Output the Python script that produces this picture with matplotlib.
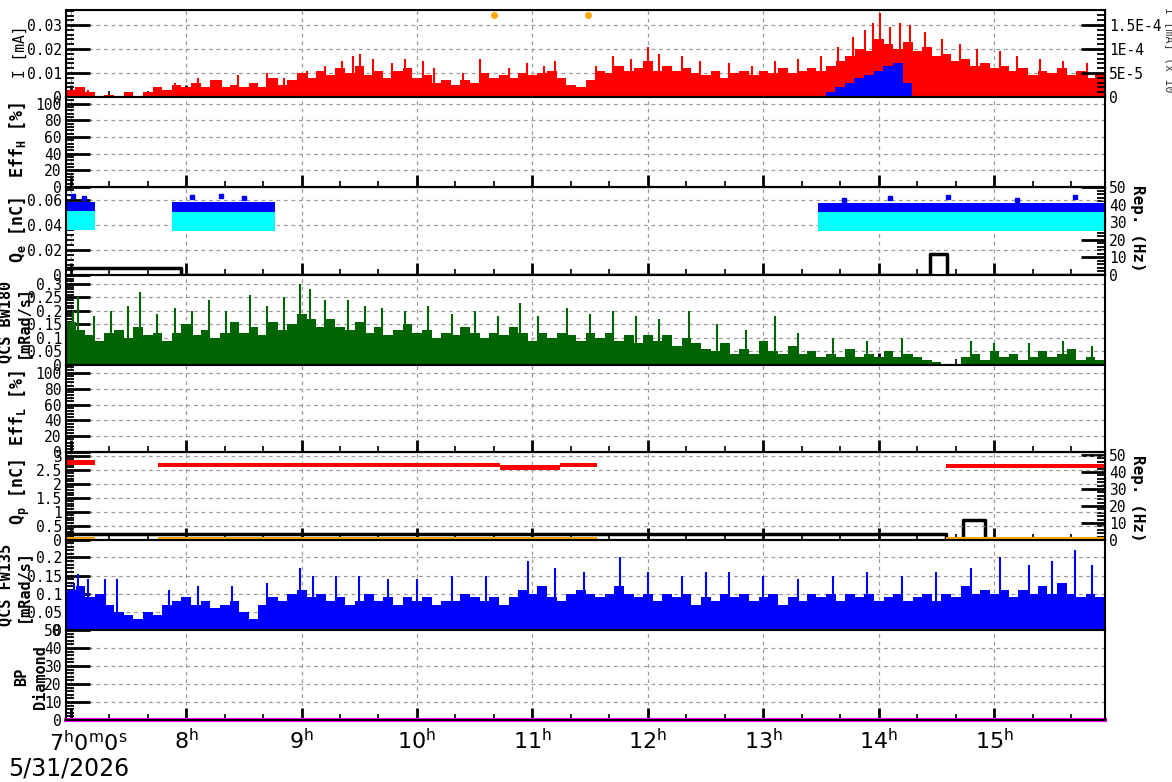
import numpy as np
import matplotlib
matplotlib.use('Agg')
import matplotlib.pyplot as plt
from matplotlib.ticker import MultipleLocator, FixedLocator, FixedFormatter, FuncFormatter
from matplotlib.transforms import Bbox, TransformedBbox

W, H = 1172, 782
T0, T1 = 6.96, 15.96

# 5 minute bins, 6:57.6 -> 15:57.6
edges = T0 + np.arange(109) / 12.0

# beam current I [mA], red (typical level per bin + single spikes)
current = [0.003, 0.004, 0.002, 0.0005, 0.001, 0.0003, 0.002, 0.0005, 0.002, 0.004,
           0.003, 0.005, 0.004, 0.006, 0.004, 0.007, 0.004, 0.005, 0.004, 0.006,
           0.004, 0.008, 0.005, 0.007, 0.010, 0.008, 0.011, 0.009, 0.012, 0.010,
           0.013, 0.009, 0.011, 0.008, 0.011, 0.012, 0.008, 0.009, 0.006, 0.007,
           0.005, 0.007, 0.006, 0.010, 0.008, 0.009, 0.008, 0.010, 0.009, 0.010,
           0.011, 0.008, 0.005, 0.004, 0.007, 0.011, 0.010, 0.013, 0.011, 0.012,
           0.015, 0.011, 0.013, 0.011, 0.012, 0.010, 0.009, 0.011, 0.008, 0.010,
           0.011, 0.009, 0.011, 0.010, 0.012, 0.010, 0.011, 0.012, 0.011, 0.013,
           0.015, 0.017, 0.020, 0.019, 0.024, 0.022, 0.020, 0.023, 0.019, 0.021,
           0.017, 0.018, 0.015, 0.016, 0.013, 0.014, 0.012, 0.013, 0.011, 0.012,
           0.009, 0.011, 0.010, 0.012, 0.009, 0.011, 0.008, 0.010]
current_spike_t = [7.05, 7.15, 7.9, 8.1, 8.3, 8.45, 8.7, 8.85, 9.05, 9.2, 9.35, 9.45,
                   9.51, 9.62, 9.78, 9.9, 10.05, 10.15, 10.4, 10.55, 10.8, 10.95, 11.1,
                   11.2, 11.55, 11.7, 11.85, 12.0, 12.1, 12.3, 12.45, 12.7, 12.9, 13.1,
                   13.3, 13.5, 13.65, 13.78, 13.88, 13.95, 14.01, 14.1, 14.18, 14.27,
                   14.4, 14.55, 14.7, 14.85, 15.05, 15.2, 15.4, 15.6, 15.8]
current_spike_v = [0.004, 0.003, 0.006, 0.008, 0.007, 0.009, 0.010, 0.008, 0.011, 0.013,
                   0.015, 0.017, 0.018, 0.016, 0.014, 0.016, 0.015, 0.012, 0.010, 0.016,
                   0.012, 0.014, 0.013, 0.015, 0.013, 0.017, 0.016, 0.021, 0.018, 0.017,
                   0.015, 0.014, 0.013, 0.015, 0.016, 0.017, 0.021, 0.025, 0.028, 0.031,
                   0.035, 0.029, 0.031, 0.030, 0.027, 0.024, 0.022, 0.020, 0.019, 0.017,
                   0.016, 0.015, 0.014]

# second current trace (right axis), blue
blue_cur_t0, blue_cur_t1 = 13.54, 14.29
blue_cur = [1e-5, 2e-5, 3e-5, 4e-5, 4.5e-5, 5.5e-5, 6.5e-5, 7e-5, 3e-5]
dots_t = [10.667, 11.48]
dots_v = [1.71e-4, 1.71e-4]

# QCS BW180 [mRad/s], green
bw180 = [0.16, 0.13, 0.11, 0.09, 0.12, 0.13, 0.10, 0.14, 0.11, 0.12,
         0.09, 0.12, 0.15, 0.11, 0.13, 0.10, 0.12, 0.16, 0.12, 0.14,
         0.11, 0.16, 0.13, 0.15, 0.19, 0.17, 0.14, 0.17, 0.14, 0.13,
         0.16, 0.12, 0.14, 0.11, 0.13, 0.15, 0.12, 0.13, 0.10, 0.12,
         0.11, 0.14, 0.12, 0.10, 0.12, 0.11, 0.14, 0.12, 0.09, 0.12,
         0.10, 0.12, 0.11, 0.09, 0.12, 0.10, 0.12, 0.09, 0.11, 0.08,
         0.11, 0.09, 0.11, 0.07, 0.10, 0.08, 0.06, 0.05, 0.08, 0.04,
         0.06, 0.04, 0.09, 0.05, 0.04, 0.07, 0.04, 0.05, 0.03, 0.04,
         0.03, 0.06, 0.03, 0.04, 0.03, 0.05, 0.03, 0.04, 0.03, 0.02,
         0.01, 0.005, 0.0, 0.03, 0.04, 0.02, 0.05, 0.03, 0.04, 0.02,
         0.03, 0.05, 0.03, 0.04, 0.06, 0.02, 0.03, 0.02]
bw180_spike_t = [7.02, 7.06, 7.2, 7.35, 7.5, 7.6, 7.75, 7.9, 8.05, 8.2, 8.35, 8.55,
                 8.7, 8.85, 8.99, 9.07, 9.2, 9.4, 9.55, 9.7, 9.9, 10.1, 10.3, 10.5,
                 10.7, 10.89, 11.05, 11.3, 11.5, 11.7, 11.9, 12.1, 12.36, 12.6, 12.85,
                 13.1, 13.3, 13.6, 13.9, 14.2, 14.8, 15.0, 15.3, 15.6, 15.85]
bw180_spike_v = [0.20, 0.25, 0.18, 0.20, 0.22, 0.27, 0.19, 0.21, 0.20, 0.24, 0.20, 0.26,
                 0.22, 0.25, 0.30, 0.28, 0.24, 0.24, 0.22, 0.21, 0.20, 0.22, 0.19, 0.20,
                 0.18, 0.23, 0.18, 0.21, 0.19, 0.20, 0.18, 0.17, 0.20, 0.15, 0.13,
                 0.18, 0.12, 0.10, 0.09, 0.10, 0.09, 0.08, 0.08, 0.09, 0.07]

# QCS FW135 [mRad/s], blue
fw135 = [0.11, 0.12, 0.09, 0.10, 0.07, 0.05, 0.04, 0.03, 0.05, 0.04,
         0.07, 0.08, 0.09, 0.07, 0.08, 0.06, 0.07, 0.08, 0.05, 0.03,
         0.07, 0.09, 0.08, 0.10, 0.11, 0.09, 0.10, 0.08, 0.09, 0.07,
         0.08, 0.10, 0.08, 0.09, 0.07, 0.09, 0.08, 0.09, 0.07, 0.08,
         0.08, 0.10, 0.09, 0.08, 0.09, 0.07, 0.09, 0.11, 0.10, 0.12,
         0.09, 0.08, 0.10, 0.11, 0.10, 0.09, 0.10, 0.12, 0.10, 0.09,
         0.10, 0.08, 0.10, 0.09, 0.10, 0.07, 0.09, 0.08, 0.10, 0.09,
         0.10, 0.08, 0.09, 0.10, 0.07, 0.09, 0.08, 0.10, 0.09, 0.10,
         0.08, 0.10, 0.09, 0.10, 0.08, 0.09, 0.10, 0.08, 0.09, 0.10,
         0.08, 0.10, 0.09, 0.12, 0.10, 0.11, 0.10, 0.11, 0.09, 0.11,
         0.10, 0.12, 0.10, 0.13, 0.10, 0.09, 0.10, 0.09]
fw135_spike_t = [7.03, 7.06, 7.15, 7.3, 7.4, 7.85, 8.1, 8.4, 8.7, 8.99, 9.1, 9.3, 9.5,
                 9.75, 10.0, 10.3, 10.6, 10.96, 11.2, 11.45, 11.76, 12.0, 12.3, 12.5,
                 12.7, 13.0, 13.3, 13.6, 13.9, 14.2, 14.5, 14.8, 15.05, 15.3, 15.5,
                 15.7, 15.85]
fw135_spike_v = [0.13, 0.155, 0.14, 0.14, 0.14, 0.11, 0.12, 0.12, 0.13, 0.17, 0.15, 0.15,
                 0.15, 0.14, 0.14, 0.15, 0.15, 0.19, 0.17, 0.16, 0.20, 0.16, 0.15, 0.16,
                 0.16, 0.15, 0.14, 0.15, 0.16, 0.15, 0.16, 0.17, 0.20, 0.18, 0.19,
                 0.22, 0.18]

# Q_e [nC] clouds (blue / cyan)
qe_start = [6.96, 7.88, 13.47]
qe_end = [7.21, 8.77, 15.96]
qe_blue_lo = [0.046, 0.046, 0.046]
qe_blue_hi = [0.058, 0.058, 0.057]
qe_cyan_lo = [0.036, 0.035, 0.035]
qe_cyan_hi = [0.051, 0.050, 0.050]
qe_out_t = [7.02, 7.12, 8.05, 8.3, 8.5, 13.7, 14.1, 14.6, 15.2, 15.7]
qe_out_v = [0.063, 0.061, 0.062, 0.063, 0.061, 0.060, 0.061, 0.062, 0.060, 0.062]

# Q_p [nC] cloud (red) and orange trace
qp_start = [6.96, 7.76, 10.72, 11.24, 14.58]
qp_end = [7.21, 10.72, 11.24, 11.56, 15.96]
qp_lo = [2.68, 2.60, 2.50, 2.60, 2.56]
qp_hi = [2.86, 2.76, 2.68, 2.76, 2.72]
orange_start = [6.96, 7.76, 14.58]
orange_end = [7.21, 11.56, 15.96]

# repetition rate [Hz], black steps
rep_e_t = [6.96, 7.96, 14.44, 14.59, 15.96]
rep_e_v = [4, 0, 12, 0, 0]
rep_p_t = [6.96, 14.58, 14.73, 14.92, 15.96]
rep_p_v = [3.5, 0, 12, 0, 0]

bp_t = [6.96, 15.96]
bp_v = [0, 0]

hours = [7, 8, 9, 10, 11, 12, 13, 14, 15]
hour_labels = [''] + [r'$\mathregular{%d^h}$' % h for h in hours[1:]]

plt.rcParams['font.family'] = 'DejaVu Sans Mono'

fig = plt.figure(figsize=(W / 100, H / 100), dpi=100)
fig.patch.set_facecolor('white')

tops = [10, 97, 187, 275, 365, 452, 540, 630, 720]
fmt = FuncFormatter(lambda v, p: '0' if abs(v) < 1e-12 else '%g' % v)


def panel(i, ymax, major, minor):
    top, bot = tops[i], tops[i + 1]
    ax = fig.add_axes([66 / W, 1 - bot / H, (1105 - 66) / W, (bot - top) / H])
    ax.set_xlim(T0, T1)
    ax.set_ylim(0, ymax)
    ax.xaxis.set_major_locator(FixedLocator(hours))
    ax.xaxis.set_minor_locator(MultipleLocator(1 / 3))
    ax.yaxis.set_major_locator(MultipleLocator(major))
    ax.yaxis.set_minor_locator(MultipleLocator(minor))
    ax.yaxis.set_major_formatter(fmt)
    ax.tick_params(axis='y', which='major', direction='in', length=17, width=2,
                   labelsize=10.5, pad=3)
    ax.tick_params(axis='y', which='minor', direction='in', length=6, width=1.3)
    ax.tick_params(axis='x', which='major', direction='in', length=9, width=2,
                   labelbottom=False)
    ax.tick_params(axis='x', which='minor', direction='in', length=4, width=1.2)
    ax.grid(True, which='major', ls=(0, (3, 3)), color='#9a9a9a', lw=0.9)
    ax.set_axisbelow(True)
    for s in ax.spines.values():
        s.set_linewidth(1.5)
    return ax


def twin(ax, ymax, ticks, labels):
    tw = ax.twinx()
    tw.set_ylim(0, ymax)
    tw.yaxis.set_major_locator(FixedLocator(ticks))
    tw.yaxis.set_major_formatter(FixedFormatter(labels))
    step = ticks[1] - ticks[0]
    tw.yaxis.set_minor_locator(MultipleLocator(step / 5))
    tw.tick_params(axis='y', which='major', direction='in', length=17, width=2,
                   labelsize=10.5, pad=3)
    tw.tick_params(axis='y', which='minor', direction='in', length=6, width=1.3)
    return tw


def ylabel(lines, xs, yc, y0, y1, weight='bold', size=10.5):
    clip = TransformedBbox(Bbox([[0, 1 - y1 / H], [1, 1 - y0 / H]]), fig.transFigure)
    for txt, x in zip(lines, xs):
        t = fig.text(x / W, 1 - yc / H, txt, rotation=90, ha='center', va='center',
                     fontsize=size, fontweight=weight)
        t.set_clip_box(clip)
        t.set_clip_on(True)


# 1: current
ax1 = panel(0, 0.0363, 0.01, 0.002)
ax1.stairs(current, edges, fill=True, color='red', lw=0)
ax1.vlines(current_spike_t, 0, current_spike_v, color='red', lw=1.5)
tw1 = twin(ax1, 1.81e-4, [0, 5e-5, 1e-4, 1.5e-4], ['0', '5E-5', '1E-4', '1.5E-4'])
bedges = np.linspace(blue_cur_t0, blue_cur_t1, len(blue_cur) + 1)
tw1.stairs(blue_cur, bedges, fill=True, color='blue', lw=0)
tw1.plot(dots_t, dots_v, 'o', color='orange', ms=4)
ylabel(['I [mA]'], [20], 52, 10, 97, weight='normal', size=10.5)
fig.text(1169 / W, 1 - 50 / H, 'I [mA] (x 10', rotation=-90, ha='center', va='center',
         fontsize=8.5, color='#444444')

# 2: Eff_H
ax2 = panel(1, 108, 20, 4)
ylabel([r'Eff$_{\mathregular{H}}$ [%]'], [18], 140, 97, 187, size=12)

# 3: Q_e
ax3 = panel(2, 0.07, 0.02, 0.004)
for s, e, bl, bh, cl, ch in zip(qe_start, qe_end, qe_blue_lo, qe_blue_hi, qe_cyan_lo, qe_cyan_hi):
    ax3.fill_between([s, e], bl, bh, color='blue', lw=0)
    ax3.fill_between([s, e], cl, ch, color='cyan', lw=0)
ax3.plot(qe_out_t, qe_out_v, 's', color='blue', ms=3)
tw3 = twin(ax3, 50, [0, 10, 20, 30, 40, 50], ['0', '10', '20', '30', '40', '50'])
tw3.step(rep_e_t, rep_e_v, where='post', color='black', lw=2.5)
ax3.set_zorder(tw3.get_zorder() + 1)
ax3.patch.set_visible(False)
ylabel([r'Q$_{\mathregular{e}}$ [nC]'], [18], 230, 187, 275, size=12)
fig.text(1138 / W, 1 - 228 / H, 'Rep. (Hz)', rotation=-90, ha='center', va='center',
         fontsize=11.5, fontweight='bold')

# 4: QCS BW180
ax4 = panel(3, 0.333, 0.05, 0.01)
ax4.stairs(bw180, edges, fill=True, color='#006400', lw=0)
ax4.vlines(bw180_spike_t, 0, bw180_spike_v, color='#006400', lw=1.5)
ylabel(['QCS BW180', '[mRad/s]'], [6, 23], 322, 275, 365, size=11)

# 5: Eff_L
ax5 = panel(4, 110, 20, 4)
ylabel([r'Eff$_{\mathregular{L}}$ [%]'], [18], 408, 365, 452, size=12)

# 6: Q_p
ax6 = panel(5, 3.15, 0.5, 0.1)
for s, e, lo, hi in zip(qp_start, qp_end, qp_lo, qp_hi):
    ax6.fill_between([s, e], lo, hi, color='red', lw=0)
for s, e in zip(orange_start, orange_end):
    ax6.fill_between([s, e], 0.0, 0.09, color='orange', lw=0)
tw6 = twin(ax6, 51.8, [0, 10, 20, 30, 40, 50], ['0', '10', '20', '30', '40', '50'])
tw6.step(rep_p_t, rep_p_v, where='post', color='black', lw=2.5)
ax6.set_zorder(tw6.get_zorder() + 1)
ax6.patch.set_visible(False)
ylabel([r'Q$_{\mathregular{p}}$ [nC]'], [20], 492, 452, 540, size=12)
fig.text(1138 / W, 1 - 498 / H, 'Rep. (Hz)', rotation=-90, ha='center', va='center',
         fontsize=11.5, fontweight='bold')

# 7: QCS FW135
ax7 = panel(6, 0.248, 0.05, 0.01)
ax7.stairs(fw135, edges, fill=True, color='blue', lw=0)
ax7.vlines(fw135_spike_t, 0, fw135_spike_v, color='blue', lw=1.5)
ylabel(['QCS FW135', '[mRad/s]'], [6, 23], 585, 540, 630, size=11)

# 8: BP Diamond
ax8 = panel(7, 50, 10, 2)
ax8.plot(bp_t, bp_v, color='magenta', lw=3, clip_on=False)
ax8.xaxis.set_major_formatter(FixedFormatter(hour_labels))
ax8.tick_params(axis='x', which='major', labelbottom=True, labelsize=16, pad=6)
for lab in ax8.get_xticklabels():
    lab.set_fontfamily('DejaVu Sans')
ylabel(['BP', 'Diamond'], [22, 40], 677, 630, 720, size=11)

# first time label sits a bit right of its tick, as in the original
fig.text(88 / W, 1 - 743 / H, r'$\mathregular{7^h0^m0^s}$', fontsize=16,
         ha='center', va='center', family='DejaVu Sans')
fig.text(8 / W, 1 - 768 / H, '5/31/2026', fontsize=17, va='center', family='DejaVu Sans')

fig.savefig('out.png', dpi=100)
